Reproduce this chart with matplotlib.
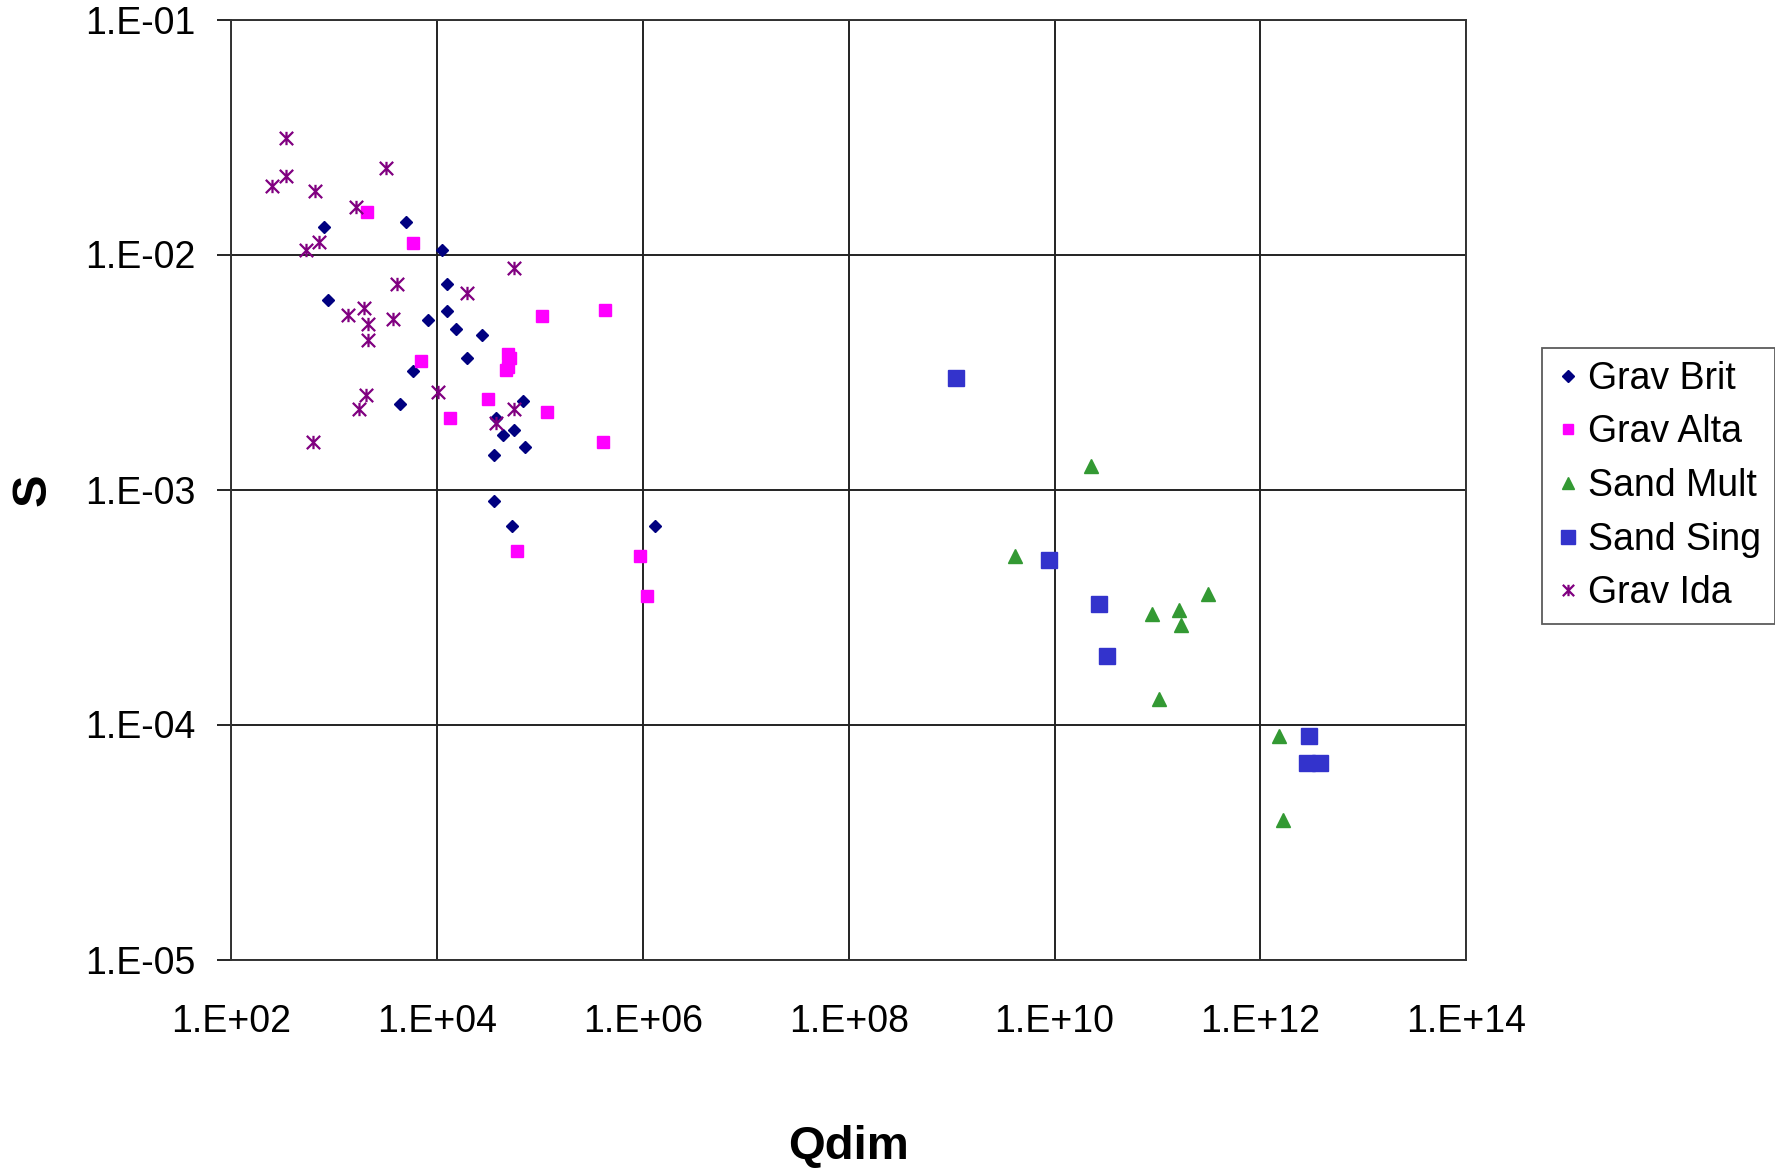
import matplotlib
matplotlib.use("Agg")
import matplotlib.pyplot as plt
from matplotlib.path import Path

plt.rcParams['font.family'] = ['Liberation Sans', 'DejaVu Sans']

# ---- data ----
grav_brit_x = [796, 4920, 11060, 12450, 863, 12450, 8040, 15200, 27000, 19400,
               5790, 4360, 67700, 36900, 55500, 43300, 70800, 35500, 35500, 53500, 1.315e6]
grav_brit_y = [0.01303, 0.01375, 0.0105, 0.0075, 0.00638, 0.00573, 0.00525, 0.00482, 0.00456, 0.00361,
               0.00319, 0.00231, 0.00239, 0.00201, 0.0018, 0.00171, 0.00152, 0.0014, 0.000897, 0.0007, 0.0007]

grav_alta_x = [2060, 5870, 103600, 428000, 48500, 50400, 48500, 46400, 6920, 31000,
               13200, 117500, 412000, 59300, 929000, 1.094e6]
grav_alta_y = [0.01515, 0.01122, 0.0055, 0.00578, 0.00378, 0.00362, 0.00333, 0.00321, 0.00352, 0.00242,
               0.00202, 0.00213, 0.0016, 0.00055, 0.00052, 0.000353]

sand_mult_x = [2.24e10, 4.13e9, 3.12e11, 1.635e11, 8.95e10, 1.71e11, 1.047e11, 1.52e12, 1.65e12]
sand_mult_y = [0.001258, 0.000522, 0.00036, 0.000308, 0.000296, 0.000266, 0.000128, 8.93e-5, 3.94e-5]

sand_sing_x = [1.107e9, 8.81e9, 2.69e10, 3.21e10, 2.97e12, 2.84e12, 3.83e12]
sand_sing_y = [0.00298, 0.000502, 0.000326, 0.000196, 8.9e-5, 6.84e-5, 6.84e-5]

grav_ida_x = [341, 3150, 341, 245, 651, 1636, 701, 532, 55500, 4030, 19400,
              1928, 1349, 3680, 2108, 2108, 2020, 10100, 1726, 55500, 36900, 622]
grav_ida_y = [0.0313, 0.0234, 0.0215, 0.0196, 0.0186, 0.0159, 0.01128, 0.0105, 0.0088, 0.0075, 0.00687,
              0.00594, 0.00555, 0.00533, 0.00508, 0.00433, 0.00253, 0.00261, 0.00219, 0.00219, 0.00191, 0.001596]

x_ticks = [1e2, 1e4, 1e6, 1e8, 1e10, 1e12, 1e14]
x_tick_labels = ["1.E+02", "1.E+04", "1.E+06", "1.E+08", "1.E+10", "1.E+12", "1.E+14"]
y_ticks = [1e-5, 1e-4, 1e-3, 1e-2, 1e-1]
y_tick_labels = ["1.E-05", "1.E-04", "1.E-03", "1.E-02", "1.E-01"]

# ---- figure ----
W, H = 1775, 1171
fig = plt.figure(figsize=(W / 100, H / 100), dpi=100)
ax = fig.add_axes([231.5 / W, 1 - 959.5 / H, (1466 - 231.5) / W, (959.5 - 19.5) / H])
ax.set_xscale('log')
ax.set_yscale('log')
ax.set_xlim(1e2, 1e14)
ax.set_ylim(1e-5, 1e-1)

star = Path([(0, 1), (0, -1), (-1, 1), (1, -1), (-1, -1), (1, 1)],
            [Path.MOVETO, Path.LINETO, Path.MOVETO, Path.LINETO, Path.MOVETO, Path.LINETO])

ax.plot(grav_brit_x, grav_brit_y, ls='none', marker='D', ms=6.6, color='#000080',
        mec='#000080', label='Grav Brit', zorder=3)
ax.plot(grav_alta_x, grav_alta_y, ls='none', marker='s', ms=8.0, color='#FF00FF',
        mec='#FF00FF', label='Grav Alta', zorder=3)
ax.plot(sand_mult_x, sand_mult_y, ls='none', marker='^', ms=9.6, color='#339933',
        mec='#339933', label='Sand Mult', zorder=3)
ax.plot(sand_sing_x, sand_sing_y, ls='none', marker='s', ms=12.2, color='#3333CC',
        mec='#3333CC', label='Sand Sing', zorder=3)
ax.plot(grav_ida_x, grav_ida_y, ls='none', marker=star, ms=9.6, color='#800080',
        mec='#800080', mew=1.6, fillstyle='none', label='Grav Ida', zorder=3)

ax.set_xticks(x_ticks)
ax.set_xticklabels(x_tick_labels)
ax.set_yticks(y_ticks)
ax.set_yticklabels(y_tick_labels)
ax.minorticks_off()
ax.tick_params(axis='x', length=0, pad=32, labelsize=27)
ax.tick_params(axis='y', length=10, width=1.2, pad=16, labelsize=27, direction='out')

ax.grid(True, which='major', color='#222222', linewidth=1.4)
ax.set_axisbelow(True)
for s in ax.spines.values():
    s.set_color('#333333')
    s.set_linewidth(1.4)

fig.text(848 / W, 1 - 1159 / H, 'Qdim', fontsize=34, fontweight='bold',
         ha='center', va='baseline')
fig.text(33 / W, 1 - 490 / H, 'S', fontsize=35, fontweight='bold',
         ha='center', va='center', rotation=90)

leg = fig.legend(loc='center left', bbox_to_anchor=(1541.5 / W, 1 - 486 / H),
                 fontsize=27, frameon=True, fancybox=False, edgecolor='#333333',
                 handlelength=0.7, handletextpad=0.2, labelspacing=0.47,
                 borderpad=0.35, borderaxespad=0, markerscale=0.85)
leg.get_frame().set_linewidth(1.3)

fig.savefig('out.png', dpi=100, facecolor='white')
